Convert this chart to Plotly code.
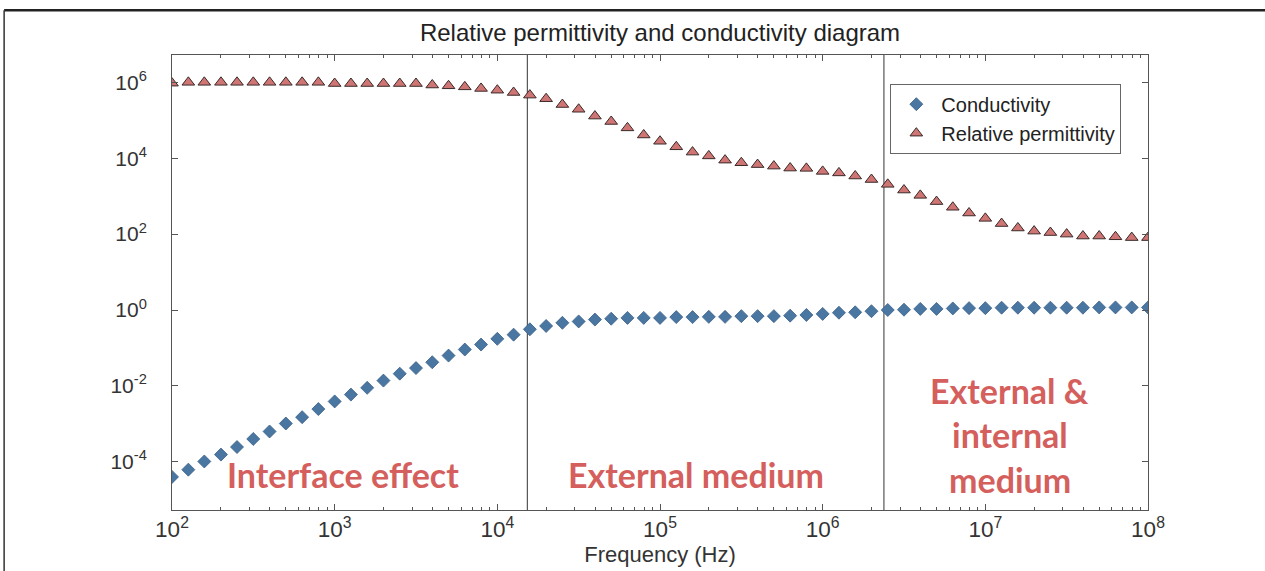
import plotly.graph_objects as go

# ---------------- data ----------------
frequency_hz = [
    100, 126, 158, 200, 251, 316, 398, 501, 631, 794,
    1000, 1259, 1585, 1995, 2512, 3162, 3981, 5012, 6310, 7943,
    1.0e4, 1.259e4, 1.585e4, 1.995e4, 2.512e4, 3.162e4, 3.981e4, 5.012e4, 6.310e4, 7.943e4,
    1.0e5, 1.259e5, 1.585e5, 1.995e5, 2.512e5, 3.162e5, 3.981e5, 5.012e5, 6.310e5, 7.943e5,
    1.0e6, 1.259e6, 1.585e6, 1.995e6, 2.512e6, 3.162e6, 3.981e6, 5.012e6, 6.310e6, 7.943e6,
    1.0e7, 1.259e7, 1.585e7, 1.995e7, 2.512e7, 3.162e7, 3.981e7, 5.012e7, 6.310e7, 7.943e7,
    1.0e8,
]

conductivity = [
    4.0e-5, 6.2e-5, 1.02e-4, 1.55e-4, 2.45e-4, 4.0e-4, 6.3e-4, 1.02e-3, 1.5e-3, 2.45e-3,
    3.9e-3, 5.9e-3, 8.9e-3, 1.38e-2, 2.1e-2, 2.95e-2, 4.2e-2, 6.3e-2, 9.1e-2, 0.123,
    0.174, 0.224, 0.31, 0.38, 0.46, 0.50, 0.56, 0.59, 0.62, 0.62,
    0.62, 0.65, 0.65, 0.66, 0.66, 0.69, 0.69, 0.69, 0.71, 0.74,
    0.79, 0.85, 0.87, 0.93, 1.0, 1.02, 1.07, 1.07, 1.10, 1.12,
    1.12, 1.15, 1.15, 1.15, 1.15, 1.15, 1.15, 1.17, 1.17, 1.17,
    1.17,
]

relative_permittivity = [
    9.5e5, 1.0e6, 1.0e6, 1.0e6, 1.0e6, 1.0e6, 1.0e6, 1.0e6, 1.0e6, 1.0e6,
    9.3e5, 9.3e5, 9.3e5, 9.3e5, 9.3e5, 9.3e5, 8.5e5, 8.1e5, 7.6e5, 6.9e5,
    6.2e5, 5.4e5, 4.6e5, 3.7e5, 2.6e5, 1.95e5, 1.29e5, 9.3e4, 6.3e4, 4.1e4,
    2.8e4, 2.0e4, 1.45e4, 1.15e4, 8.9e3, 7.6e3, 6.8e3, 6.2e3, 5.5e3, 5.4e3,
    4.5e3, 4.1e3, 3.4e3, 2.75e3, 2.05e3, 1.45e3, 1.05e3, 720, 510, 360,
    260, 190, 145, 120, 110, 100, 89, 89, 85, 81,
    81,
]

region_boundaries_hz = [1.53e4, 2.38e6]

y_tick_values = [1e-4, 1e-2, 1, 1e2, 1e4, 1e6]
y_tick_labels = ["10<sup>-4</sup>", "10<sup>-2</sup>", "10<sup>0</sup>",
                 "10<sup>2</sup>", "10<sup>4</sup>", "10<sup>6</sup>"]

region_labels = ["Interface effect", "External medium", "External &", "internal", "medium"]

# ---------------- figure ----------------
fig = go.Figure()

for xb in region_boundaries_hz:
    fig.add_trace(go.Scatter(
        x=[xb, xb], y=[1e-9, 1e9], mode="lines",
        line=dict(color="#555555", width=1.2),
        showlegend=False, hoverinfo="skip",
    ))

fig.add_trace(go.Scatter(
    x=frequency_hz, y=conductivity, mode="markers", name="Conductivity",
    legendgroup="a",
    marker=dict(symbol="diamond", size=10, color="#4a76a2",
                line=dict(color="#3a5f86", width=0.8)),
))

fig.add_trace(go.Scatter(
    x=frequency_hz, y=relative_permittivity, mode="markers", name="Relative permittivity",
    legendgroup="b",
    marker=dict(symbol="triangle-up", size=11, color="#cf7674",
                line=dict(color="#3a2a2a", width=1)),
))

label_font = dict(family="Lato, Open Sans, sans-serif", size=34, color="#d45f5d")
# (text, log10 x, log10 y)
label_positions = [
    (region_labels[0], 3.054, -4.33),
    (region_labels[1], 5.22, -4.33),
    (region_labels[2], 7.15, -2.12),
    (region_labels[3], 7.15, -3.29),
    (region_labels[4], 7.15, -4.46),
]
for txt, lx, ly in label_positions:
    fig.add_annotation(x=lx, y=ly, xref="x", yref="y", text="<b>" + txt + "</b>",
                       showarrow=False, font=label_font, xanchor="center", yanchor="middle")

# scanned page border (top and left)
fig.add_shape(type="line", xref="paper", yref="paper", x0=-0.172, x1=1.2,
              y0=1.0985, y1=1.0985, line=dict(color="#222222", width=2.5))
fig.add_shape(type="line", xref="paper", yref="paper", x0=-0.172, x1=-0.172,
              y0=1.0985, y1=-0.14, line=dict(color="#333333", width=1.5))

axis_common = dict(
    showline=True, linecolor="#555555", linewidth=1, mirror="allticks",
    ticks="inside", tickcolor="#555555", showgrid=False, zeroline=False,
)

fig.update_xaxes(
    type="log", range=[2, 8], dtick=1, exponentformat="power", ticklen=6,
    tickfont=dict(family="Liberation Sans, Arial, sans-serif", size=18, color="#333333"),
    minor=dict(ticks="inside", ticklen=3, dtick="D1", tickcolor="#555555", showgrid=False),
    title=dict(text="Frequency (Hz)", standoff=2,
               font=dict(family="Liberation Sans, Arial, sans-serif", size=22, color="#333333")),
    **axis_common,
)
fig.update_yaxes(
    type="log", range=[-5.27, 6.72], tickmode="array",
    tickvals=y_tick_values, ticktext=y_tick_labels, ticklen=6,
    tickfont=dict(family="Liberation Sans, Arial, sans-serif", size=21, color="#333333"),
    ticklabelstandoff=20,
    **axis_common,
)

fig.update_layout(
    width=1265, height=571,
    margin=dict(l=172, r=117, t=55, b=59),
    paper_bgcolor="white", plot_bgcolor="white",
    title=dict(text="Relative permittivity and conductivity diagram", x=0.5, xref="paper",
               xanchor="center", y=0.943, yanchor="middle",
               font=dict(family="Liberation Sans, Arial, sans-serif", size=24, color="#222222")),
    legend=dict(x=0.736, y=0.937, xanchor="left", yanchor="top",
                bgcolor="white", bordercolor="#666666", borderwidth=1,
                font=dict(family="Liberation Sans, Arial, sans-serif", size=20, color="#222222"),
                tracegroupgap=0, itemwidth=40),
    showlegend=True,
)

fig.write_html("out.html")
